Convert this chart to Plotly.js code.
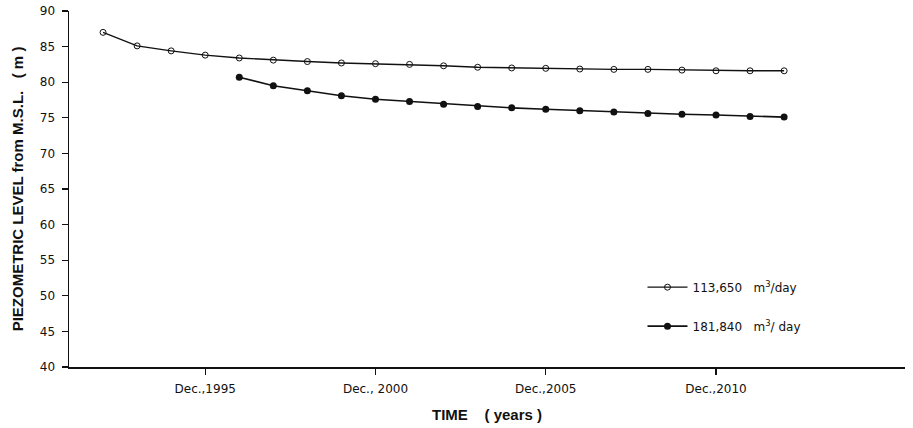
<!DOCTYPE html>
<html>
<head>
<meta charset="utf-8">
<script src="https://cdn.plot.ly/plotly-3.0.1.min.js"></script>
<style>html,body{margin:0;padding:0;background:#fff;}#chart{width:913px;height:428px;}</style>
</head>
<body>
<div id="chart"></div>
<script>
// Years (December of each year)
const yearsA = [1992,1993,1994,1995,1996,1997,1998,1999,2000,2001,2002,2003,2004,2005,2006,2007,2008,2009,2010,2011,2012];
const levelA = [87.0,85.1,84.4,83.8,83.4,83.1,82.9,82.7,82.6,82.5,82.3,82.1,82.0,81.95,81.85,81.8,81.8,81.7,81.6,81.6,81.6];
const yearsB = [1996,1997,1998,1999,2000,2001,2002,2003,2004,2005,2006,2007,2008,2009,2010,2011,2012];
const levelB = [80.7,79.5,78.8,78.1,77.6,77.3,76.9,76.6,76.4,76.2,76.0,75.8,75.6,75.5,75.4,75.2,75.1];
const nameA = "113,650&nbsp;&nbsp;&nbsp;m<sup>3</sup>/day";
const nameB = "181,840&nbsp;&nbsp;&nbsp;m<sup>3</sup>/ day";
const xTickVals = [1995, 2000, 2005, 2010];
const xTickText = ["Dec.,1995", "Dec., 2000", "Dec.,2005", "Dec.,2010"];
const yTickVals = [40,45,50,55,60,65,70,75,80,85,90];

const font = "DejaVu Sans, Arial, sans-serif";
const boldFont = "Liberation Sans, Arial, sans-serif";
const traces = [
  {x: yearsA, y: levelA, name: nameA, mode: "lines+markers", type: "scatter",
   line: {color: "#111", width: 1.4},
   marker: {symbol: "circle-open", size: 6, color: "#111", line: {width: 1}},
   legendgroup: "a"},
  {x: yearsB, y: levelB, name: nameB, mode: "lines+markers", type: "scatter",
   line: {color: "#111", width: 1.6},
   marker: {symbol: "circle", size: 7, color: "#111"},
   legendgroup: "b"}
];
const xr = [1991.0, 2015.55];
const yr = [40, 90];
const layout = {
  width: 913, height: 428,
  margin: {l: 69, r: 8, t: 11, b: 61},
  paper_bgcolor: "#fff", plot_bgcolor: "#fff",
  font: {family: font, color: "#111", size: 12},
  showlegend: true,
  legend: {x: 0.686, y: 0.265, xanchor: "left", yanchor: "top",
           traceorder: "grouped", tracegroupgap: 20,
           font: {size: 12, family: font}, bgcolor: "rgba(0,0,0,0)", itemwidth: 40},
  xaxis: {range: xr, showgrid: false, zeroline: false, showline: true, linecolor: "#111", linewidth: 1.5,
          tickmode: "array", tickvals: xTickVals, ticktext: xTickText,
          ticks: "outside", ticklen: 6, tickwidth: 1.3, tickcolor: "#111",
          ticklabelstandoff: 4,
          tickfont: {size: 12, family: font},
          title: {text: "<b>TIME&nbsp;&nbsp;&nbsp;&nbsp;( years )</b>", font: {size: 15, family: boldFont}, standoff: 14}},
  xaxis2: {range: xr, overlaying: "x", showgrid: false, zeroline: false, showline: false,
           tickmode: "array", tickvals: xTickVals, ticks: "inside", ticklen: 6, tickwidth: 1.3,
           tickcolor: "#111", showticklabels: false, side: "bottom"},
  yaxis: {range: yr, showgrid: false, zeroline: false, showline: true, linecolor: "#111", linewidth: 1.5,
          tickmode: "array", tickvals: yTickVals,
          ticks: "outside", ticklen: 6, tickwidth: 1.3, tickcolor: "#111",
          ticklabelstandoff: 4,
          tickfont: {size: 12, family: font},
          title: {text: "<b>PIEZOMETRIC LEVEL from M.S.L.&nbsp;&nbsp;&nbsp;( m )</b>", font: {size: 15, family: boldFont}, standoff: 12}},
  yaxis2: {range: yr, overlaying: "y", showgrid: false, zeroline: false, showline: false,
           tickmode: "array", tickvals: yTickVals, ticks: "inside", ticklen: 6, tickwidth: 1.3,
           tickcolor: "#111", showticklabels: false, side: "left"}
};
Plotly.newPlot("chart", traces, layout, {displayModeBar: false, staticPlot: true});
</script>
</body>
</html>
